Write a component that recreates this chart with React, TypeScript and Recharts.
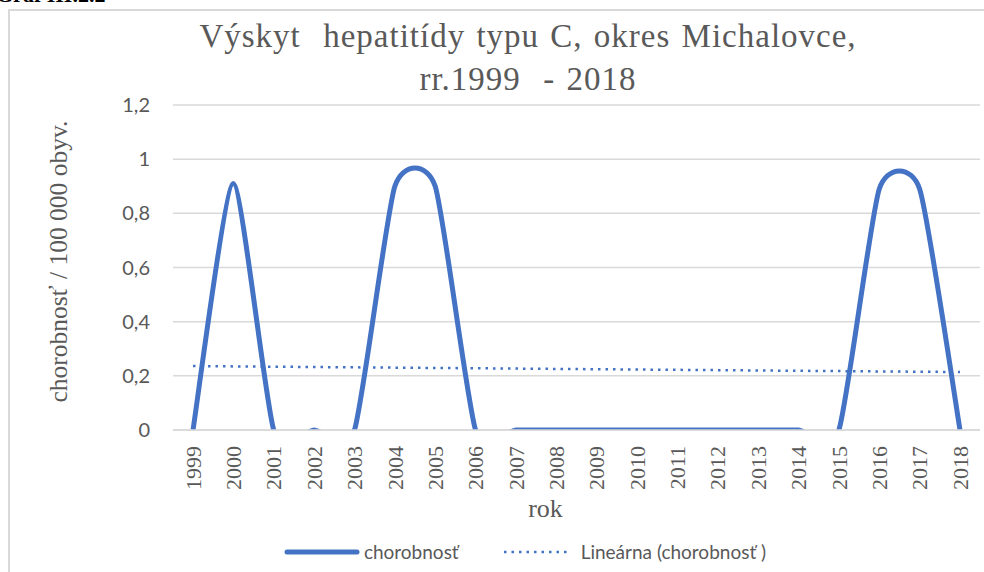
import React from 'react';
import { LineChart, Line, XAxis, YAxis, CartesianGrid, ReferenceLine, Legend, Label } from 'recharts';

const years = ['1999', '2000', '2001', '2002', '2003', '2004', '2005', '2006', '2007', '2008', '2009', '2010', '2011', '2012', '2013', '2014', '2015', '2016', '2017', '2018'];
const incidence = [0, 0.91, 0, 0, 0, 0.9, 0.9, 0, 0, 0, 0, 0, 0, 0, 0, 0, 0, 0.89, 0.89, 0];
const yTicks = [0, 0.2, 0.4, 0.6, 0.8, 1, 1.2];
const trendStart = 0.236;
const trendEnd = 0.214;

const seriesName = 'chorobnosť';
const trendName = 'Lineárna (chorobnosť )';
const titleLine1 = 'Výskyt  hepatitídy typu C, okres Michalovce,';
const titleLine2 = 'rr.1999  - 2018';
const yTitle = 'chorobnosť / 100 000 obyv.';
const xTitle = 'rok';
const figureLabel = 'Graf III.2.2';

const data = years.map((year, i) => ({ year, chorobnost: incidence[i] }));

const BLUE = '#4472C4';
const TEXT = '#595959';
const GRID = '#d9d9d9';
const SANS = 'Lato, "Noto Sans", sans-serif';
const SERIF = '"Liberation Serif", "DejaVu Serif", serif';

// Smoothed curve similar to spreadsheet "smoothed line" (cardinal spline, low tension)
function excelSmooth(context: any) {
  let pts: number[][] = [];
  const k = 0.1;
  return {
    areaStart() {},
    areaEnd() {},
    lineStart() {
      pts = [];
    },
    point(x: number, y: number) {
      pts.push([+x, +y]);
    },
    lineEnd() {
      const n = pts.length;
      if (n === 0) return;
      context.moveTo(pts[0][0], pts[0][1]);
      for (let i = 0; i < n - 1; i++) {
        const p0 = pts[i - 1] || pts[i];
        const p1 = pts[i];
        const p2 = pts[i + 1];
        const p3 = pts[i + 2] || p2;
        context.bezierCurveTo(
          p1[0] + (p2[0] - p0[0]) * k,
          p1[1] + (p2[1] - p0[1]) * k,
          p2[0] - (p3[0] - p1[0]) * k,
          p2[1] - (p3[1] - p1[1]) * k,
          p2[0],
          p2[1]
        );
      }
    },
  };
}

const XTick = (props: any) => {
  const { x, y, payload } = props;
  return (
    <text
      x={x}
      y={y}
      transform={`rotate(-90 ${x} ${y})`}
      textAnchor="end"
      dy="0.35em"
      fill={TEXT}
      fontFamily={SERIF}
      fontSize={22}
    >
      {payload.value}
    </text>
  );
};

const LegendContent = () => (
  <div style={{ display: 'flex', alignItems: 'center', justifyContent: 'center', paddingLeft: 66, fontFamily: SANS, fontSize: 19, color: TEXT }}>
    <svg width={76} height={10} style={{ marginRight: 4 }}>
      <line x1={3} y1={5} x2={73} y2={5} stroke={BLUE} strokeWidth={5} strokeLinecap="round" />
    </svg>
    <span style={{ marginRight: 44 }}>{seriesName}</span>
    <svg width={66} height={10} style={{ marginRight: 12 }}>
      <line x1={1} y1={5} x2={65} y2={5} stroke={BLUE} strokeWidth={2.5} strokeDasharray="2.5 5" />
    </svg>
    <span>{trendName}</span>
  </div>
);

export default function App() {
  return (
    <div style={{ position: 'absolute', left: 0, top: 0, width: 984, height: 572, overflow: 'hidden', background: '#fff' }}>
      <div style={{ position: 'absolute', left: -4, top: -18, fontFamily: SERIF, fontWeight: 'bold', fontSize: 22, color: '#000', whiteSpace: 'pre' }}>
        {figureLabel}
      </div>
      <div style={{ position: 'absolute', left: 8, top: 9, width: 1100, height: 700, border: `2px solid ${GRID}`, boxSizing: 'border-box' }} />
      <div
        style={{
          position: 'absolute',
          left: 0,
          top: 15,
          width: 1056,
          textAlign: 'center',
          fontFamily: SERIF,
          fontSize: 33,
          letterSpacing: 1,
          wordSpacing: 2,
          lineHeight: '43px',
          color: TEXT,
          whiteSpace: 'pre',
        }}
      >
        <div>{titleLine1}</div>
        <div>{titleLine2}</div>
      </div>
      <div style={{ position: 'absolute', left: 0, top: 0 }}>
        <LineChart width={984} height={572} data={data} margin={{ top: 105, right: 4, bottom: 0, left: 0 }}>
          <CartesianGrid vertical={false} stroke={GRID} strokeWidth={1.5} />
          <XAxis
            dataKey="year"
            interval={0}
            padding={{ left: 20, right: 20 }}
            tickLine={false}
            tickSize={0}
            tickMargin={16}
            axisLine={{ stroke: GRID, strokeWidth: 1.5 }}
            height={142}
            tick={<XTick />}
          >
            <Label
              content={(p: any) => {
                const vb = p.viewBox;
                return (
                  <text x={vb.x + vb.width / 2 - 31} y={vb.y + 87} textAnchor="middle" fill={TEXT} fontFamily={SERIF} fontSize={26}>
                    {xTitle}
                  </text>
                );
              }}
            />
          </XAxis>
          <YAxis
            width={173}
            domain={[0, 1.2]}
            ticks={yTicks}
            allowDataOverflow
            axisLine={false}
            tickLine={false}
            tickSize={0}
            tickMargin={23}
            tick={{ fill: TEXT, fontFamily: SANS, fontSize: 20 }}
            tickFormatter={(v: number) => String(v).replace('.', ',')}
          >
            <Label
              content={(p: any) => {
                const vb = p.viewBox;
                const x = vb.x + 66.5;
                const y = vb.y + vb.height / 2 - 6;
                return (
                  <text x={x} y={y} transform={`rotate(-90 ${x} ${y})`} textAnchor="middle" fill={TEXT} fontFamily={SERIF} fontSize={25.5}>
                    {yTitle}
                  </text>
                );
              }}
            />
          </YAxis>
          <Line
            type={excelSmooth as any}
            dataKey="chorobnost"
            name={seriesName}
            stroke={BLUE}
            strokeWidth={5}
            dot={false}
            activeDot={false}
            isAnimationActive={false}
          />
          <ReferenceLine
            segment={[
              { x: years[0], y: trendStart },
              { x: years[years.length - 1], y: trendEnd },
            ]}
            ifOverflow="visible"
            stroke={BLUE}
            strokeWidth={2.5}
            strokeDasharray="2.5 5"
          />
          <Legend
            layout="horizontal"
            verticalAlign="middle"
            align="center"
            content={<LegendContent />}
            wrapperStyle={{ top: 540, left: 0, width: 984 }}
          />
        </LineChart>
      </div>
    </div>
  );
}
